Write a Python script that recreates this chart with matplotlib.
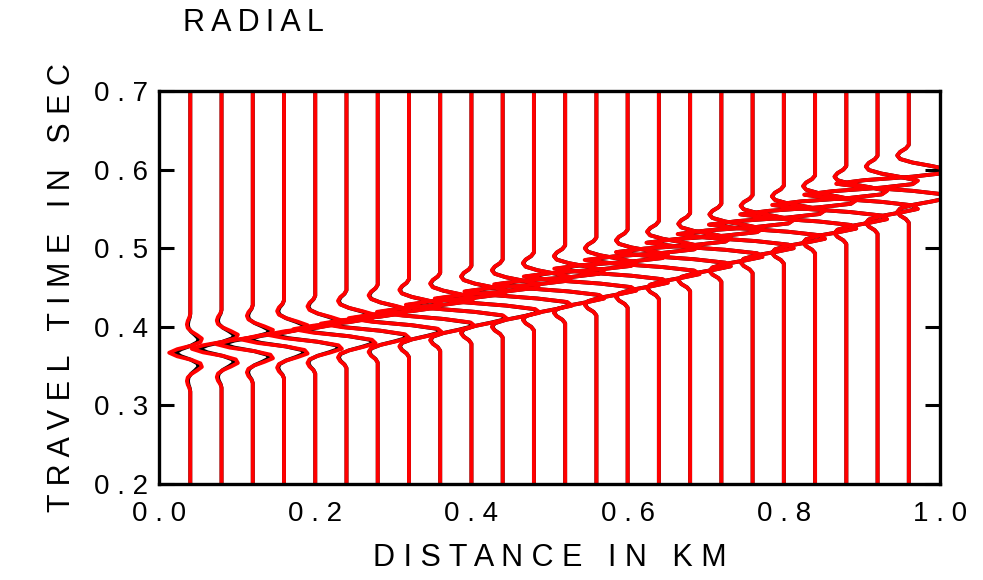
import numpy as np
import matplotlib.pyplot as plt

plt.rcParams['font.family'] = ['Liberation Sans', 'DejaVu Sans']

# receiver offsets (km)
offsets = [0.04, 0.08, 0.12, 0.16, 0.20, 0.24, 0.28, 0.32, 0.36, 0.40, 0.44, 0.48,
           0.52, 0.56, 0.60, 0.64, 0.68, 0.72, 0.76, 0.80, 0.84, 0.88, 0.92, 0.96]
# time of the main trough on each trace (s)
arrival = [0.367, 0.372, 0.378, 0.384, 0.390, 0.397, 0.404, 0.411, 0.419, 0.428, 0.436, 0.445,
           0.454, 0.464, 0.474, 0.485, 0.495, 0.507, 0.518, 0.530, 0.543, 0.555, 0.568, 0.582]
# trace gain, as trough excursion in km
amp_red = [0.027, 0.038, 0.047, 0.055, 0.062, 0.068, 0.073, 0.077, 0.081, 0.084, 0.087, 0.089,
           0.091, 0.093, 0.094, 0.095, 0.095, 0.096, 0.096, 0.096, 0.096, 0.095, 0.094, 0.093]
amp_black = [0.019, 0.029, 0.038, 0.047, 0.055, 0.062, 0.068, 0.073, 0.077, 0.081, 0.084, 0.087,
             0.089, 0.091, 0.092, 0.093, 0.094, 0.095, 0.095, 0.095, 0.095, 0.094, 0.093, 0.092]

# wavelet samples: lag (in units of half period) and normalised amplitude
lag = [-2.75, -2.5, -2.25, -2.0, -1.75, -1.5, -1.25, -1.0, -0.75, -0.5, -0.25, 0.0,
       0.25, 0.5, 0.75, 1.0, 1.25, 1.5, 1.75, 2.0, 2.25, 2.5, 2.75]
wavelet = [0.0, -0.04, -0.12, -0.16, -0.12, 0.05, 0.32, 0.55, 0.48, 0.05, -0.62, -1.0,
           -0.62, 0.05, 0.48, 0.55, 0.32, 0.05, -0.12, -0.16, -0.12, -0.04, 0.0]
half_period = 0.018

yticks = [0.2, 0.3, 0.4, 0.5, 0.6, 0.7]
xticks = [0.0, 0.2, 0.4, 0.6, 0.8, 1.0]


def spaced(s, gap='\u2009', word='  '):
    return word.join(gap.join(w) for w in s.split(' '))


def trace(x0, t0, a):
    t = np.concatenate([[0.2], t0 + np.array(lag) * half_period, [0.7]])
    x = np.concatenate([[x0], x0 + a * np.array(wavelet), [x0]])
    return x, t


fig = plt.figure(figsize=(9.83, 5.8), dpi=100)
ax = fig.add_axes([0.1618, 0.1655, 0.7945, 0.6776])

for x0, t0, a in zip(offsets, arrival, amp_black):
    x, t = trace(x0, t0, a)
    ax.plot(x, t, color='black', lw=2.8, solid_joinstyle='round', zorder=2)
for x0, t0, a in zip(offsets, arrival, amp_red):
    x, t = trace(x0, t0, a)
    ax.plot(x, t, color='red', lw=2.8, solid_joinstyle='round', zorder=3)

ax.set_xlim(0, 1)
ax.set_ylim(0.2, 0.7)
ax.set_xticks(xticks)
ax.set_yticks(yticks)
ax.set_xticklabels([' . '.join(f'{v:.1f}'.split('.')) for v in xticks])
ax.set_yticklabels([' . '.join(f'{v:.1f}'.split('.')) for v in yticks])
ax.tick_params(axis='y', direction='in', length=11, width=2.2, labelsize=20, pad=8,
               right=True)
ax.tick_params(axis='x', length=0, labelsize=20, pad=12)
for s in ax.spines.values():
    s.set_linewidth(2.4)
    s.set_zorder(5)

ax.set_xlabel(spaced('DISTANCE IN KM', gap=' ', word='   '), fontsize=22, labelpad=12)
ax.set_ylabel(spaced('TRAVEL TIME IN SEC', gap=' ', word='   '), fontsize=22, labelpad=12)
fig.text(0.186, 0.96, spaced('RADIAL'), fontsize=22, ha='left', va='center')

fig.savefig('out.png', dpi=100)
